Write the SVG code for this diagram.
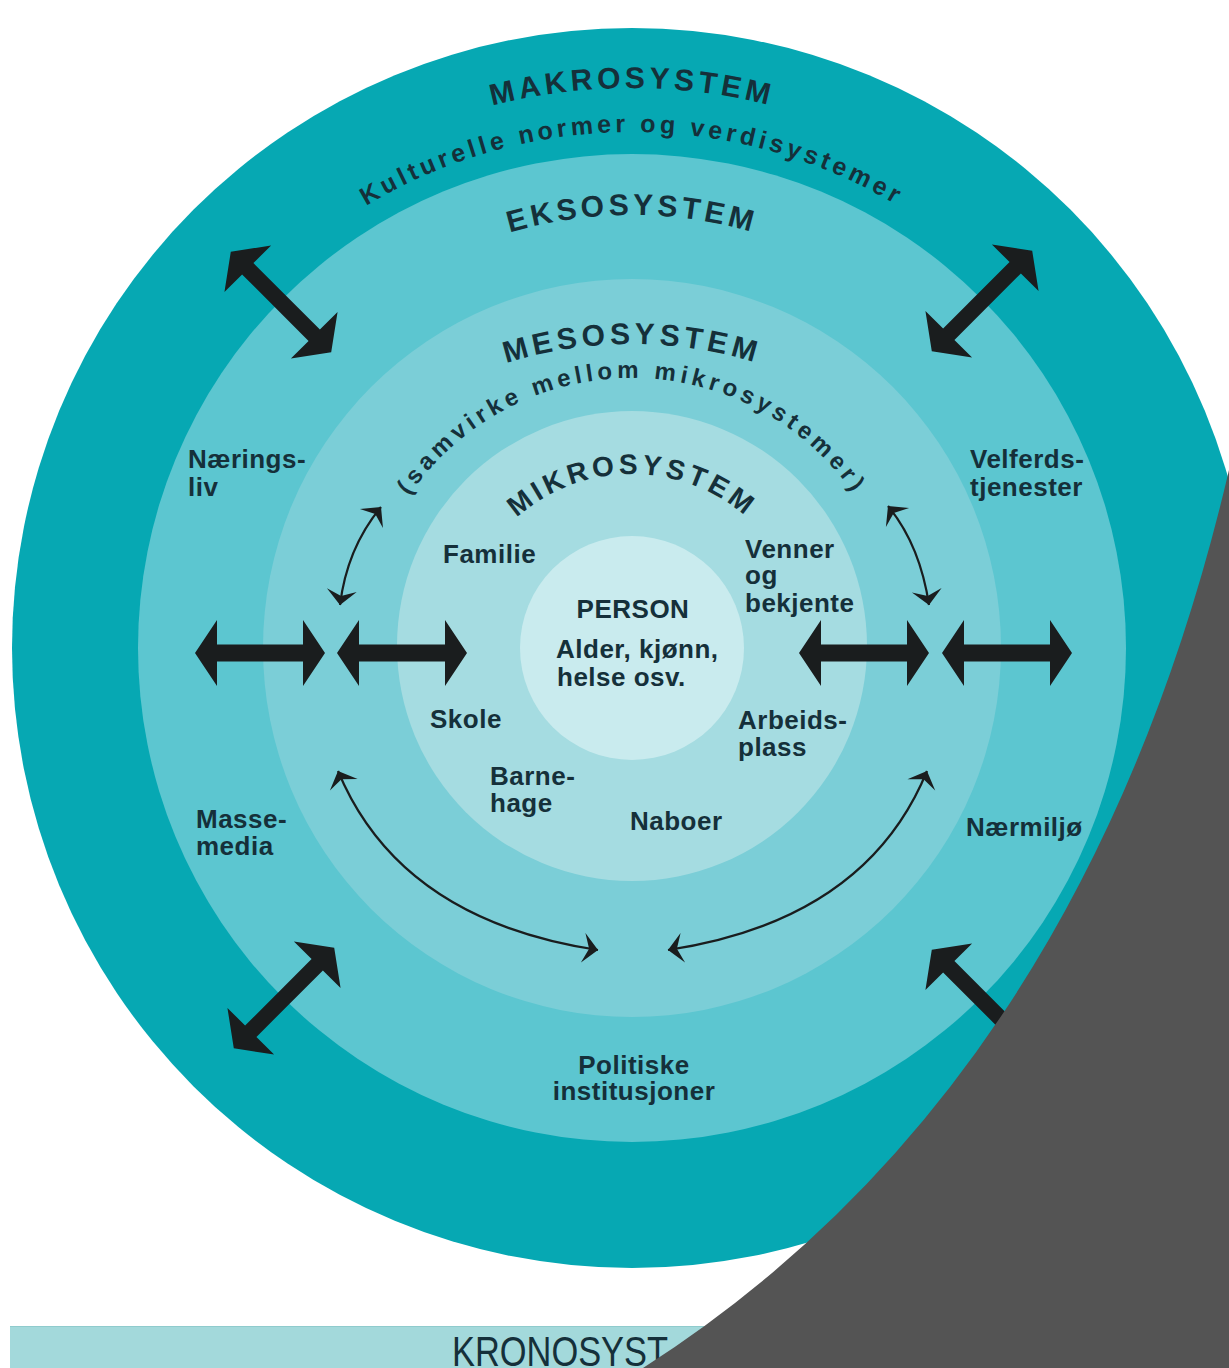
<svg xmlns="http://www.w3.org/2000/svg" width="1229" height="1368" viewBox="0 0 1229 1368">
<style>
.lbl{font-family:"Liberation Sans",Arial,sans-serif;font-weight:bold;font-size:26px;letter-spacing:0.5px;fill:#15303a}
.arc{font-family:"Liberation Sans",Arial,sans-serif;font-weight:bold;fill:#15303a}
.big{fill:#1a1d1e}
.thin{fill:none;stroke:#1a1d1e;stroke-width:2.2;marker-start:url(#barb);marker-end:url(#barb)}
</style>
<defs>
<path id="pMakro" d="M72 648 A560 560 0 0 1 1192 648"/>
<path id="pKult" d="M116 648 A516 516 0 0 1 1148 648"/>
<path id="pEks" d="M199 648 A433 433 0 0 1 1065 648"/>
<path id="pMeso" d="M212 764 A420 420 0 0 1 1052 764"/>
<path id="pSamv" d="M362 648 A270 270 0 0 1 902 648"/>
<path id="pMikro" d="M458 648 A174 174 0 0 1 806 648"/>
<marker id="barb" viewBox="-20 -20 40 40" markerWidth="40" markerHeight="40" refX="0" refY="0" orient="auto-start-reverse" markerUnits="userSpaceOnUse">
<path d="M0,0 L-15,-15 L-9,0 L-15,15 Z" fill="#1a1d1e"/>
</marker>
<path id="dblH" d="M-65,0 L-43,-33 L-43,-8.5 L43,-8.5 L43,-33 L65,0 L43,33 L43,8.5 L-43,8.5 L-43,33 Z"/>
<path id="dblD" d="M-71,0 L-47,-33 L-47,-8 L47,-8 L47,-33 L71,0 L47,33 L47,8 L-47,8 L-47,33 Z"/>
</defs>
<rect width="1229" height="1368" fill="#ffffff"/>
<g id="makrosystem">
<circle cx="632" cy="648" r="620" fill="#06a8b3"/>
<text class="arc" font-size="30" letter-spacing="4.2"><textPath href="#pMakro" startOffset="50%" text-anchor="middle">MAKROSYSTEM</textPath></text>
<text class="arc" font-size="25" letter-spacing="4"><textPath href="#pKult" startOffset="50%" text-anchor="middle">Kulturelle normer og verdisystemer</textPath></text>
</g>
<g id="eksosystem">
<circle cx="632" cy="648" r="494" fill="#5cc6d0"/>
<text class="arc" font-size="30" letter-spacing="4"><textPath href="#pEks" startOffset="50%" text-anchor="middle">EKSOSYSTEM</textPath></text>
</g>
<g id="mesosystem">
<circle cx="632" cy="648" r="369" fill="#7bced7"/>
<text class="arc" font-size="30" letter-spacing="4.4"><textPath href="#pMeso" startOffset="50%" text-anchor="middle">MESOSYSTEM</textPath></text>
<text class="arc" font-size="24" letter-spacing="4.4"><textPath href="#pSamv" startOffset="50%" text-anchor="middle">(samvirke mellom mikrosystemer)</textPath></text>
</g>
<g id="mikrosystem">
<circle cx="632" cy="646" r="235" fill="#a5dce1"/>
<text class="arc" font-size="28" letter-spacing="4"><textPath href="#pMikro" startOffset="50%" text-anchor="middle">MIKROSYSTEM</textPath></text>
</g>
<g id="person">
<circle cx="632" cy="648" r="112" fill="#c9ebee"/>
<text class="lbl" font-size="27" x="633" y="618" text-anchor="middle">PERSON</text>
<text class="lbl" font-size="27" x="556" y="658">Alder, kjønn,</text>
<text class="lbl" font-size="27" x="557" y="686">helse osv.</text>
</g>
<g id="labels">
<g id="naeringsliv"><text class="lbl" x="188" y="468">Nærings-</text><text class="lbl" x="188" y="496">liv</text></g>
<g id="familie"><text class="lbl" x="443" y="563">Familie</text></g>
<g id="skole"><text class="lbl" x="430" y="728">Skole</text></g>
<g id="venner"><text class="lbl" x="745" y="558">Venner</text><text class="lbl" x="745" y="584">og</text><text class="lbl" x="745" y="612">bekjente</text></g>
<g id="velferd"><text class="lbl" x="970" y="468">Velferds-</text><text class="lbl" x="970" y="496">tjenester</text></g>
<g id="arbeid"><text class="lbl" x="738" y="729">Arbeids-</text><text class="lbl" x="738" y="756">plass</text></g>
<g id="barnehage"><text class="lbl" x="490" y="785">Barne-</text><text class="lbl" x="490" y="812">hage</text></g>
<g id="naboer"><text class="lbl" x="630" y="830">Naboer</text></g>
<g id="massemedia"><text class="lbl" x="196" y="828">Masse-</text><text class="lbl" x="196" y="855">media</text></g>
<g id="naermiljo"><text class="lbl" x="966" y="836">Nærmiljø</text></g>
<g id="politiske"><text class="lbl" x="634" y="1074" text-anchor="middle">Politiske</text><text class="lbl" x="634" y="1100" text-anchor="middle">institusjoner</text></g>
</g>
<g id="connectors">
<use href="#dblH" class="big" transform="translate(260 653)"/>
<use href="#dblH" class="big" transform="translate(402 653)"/>
<use href="#dblH" class="big" transform="translate(864 653)"/>
<use href="#dblH" class="big" transform="translate(1007 653)"/>
<use href="#dblD" class="big" transform="translate(281 302) rotate(45)"/>
<use href="#dblD" class="big" transform="translate(982 301) rotate(-45)"/>
<use href="#dblD" class="big" transform="translate(284 998) rotate(-45)"/>
<use href="#dblD" class="big" transform="translate(982 1000) rotate(45)"/>
<path class="thin" d="M340 605 Q347 548 381 507"/>
<path class="thin" d="M929 605 Q920 545 888 506"/>
<path class="thin" d="M338 771 Q400 920 598 950"/>
<path class="thin" d="M927 771 Q866 920 668 950"/>
</g>
<g id="kronosystem">
<rect x="10" y="1326" width="1219" height="42" fill="#a3d9db"/>
<line x1="10" y1="1326.5" x2="1229" y2="1326.5" stroke="#8fcbcd" stroke-width="1"/>
<text x="452" y="1366" font-family="'Liberation Sans',Arial,sans-serif" font-size="42" fill="#15303a" textLength="216" lengthAdjust="spacingAndGlyphs">KRONOSYST</text>
</g>
<g id="overlay">
<path d="M1229 470 Q1085 1085 643 1368 L1229 1368 Z" fill="#545454"/>
</g>
</svg>
